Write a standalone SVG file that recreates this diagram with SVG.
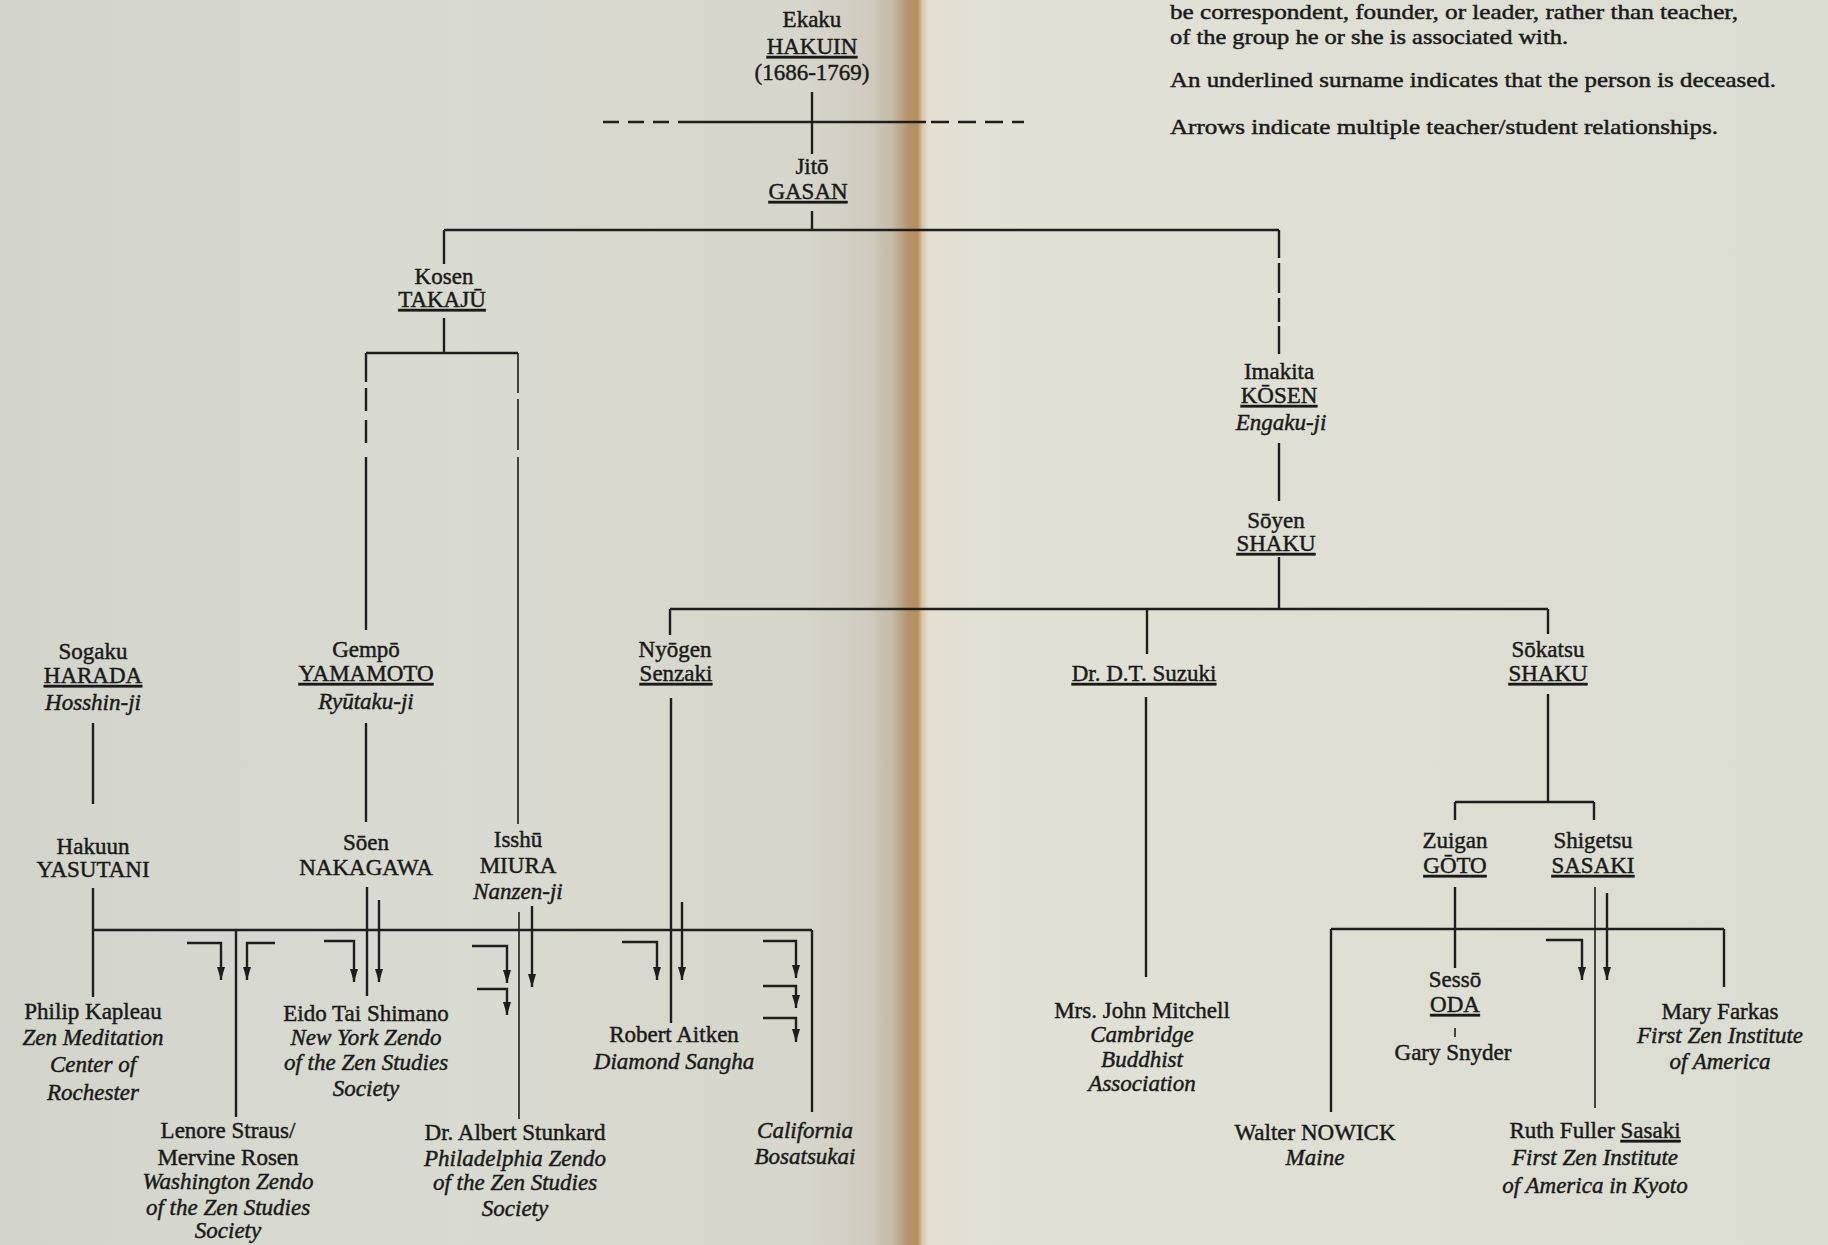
<svg xmlns="http://www.w3.org/2000/svg" width="1828" height="1245" viewBox="0 0 1828 1245">
<defs>
<linearGradient id="paper" x1="0" y1="0" x2="1828" y2="0" gradientUnits="userSpaceOnUse">
<stop offset="0" stop-color="#d3d4cb"/>
<stop offset="0.25" stop-color="#d9dad1"/>
<stop offset="0.44" stop-color="#d7d6cc"/>
<stop offset="0.475" stop-color="#d0ccbf"/>
<stop offset="0.488" stop-color="#c4bba8"/>
<stop offset="0.497" stop-color="#b3936b"/>
<stop offset="0.502" stop-color="#b98e5e"/>
<stop offset="0.5045" stop-color="#d8c6a6"/>
<stop offset="0.508" stop-color="#e5dfd0"/>
<stop offset="0.53" stop-color="#e2e1d6"/>
<stop offset="1" stop-color="#dbdcd2"/>
</linearGradient>
<marker id="ah" viewBox="0 0 13 8" refX="13" refY="4" markerWidth="13" markerHeight="8" markerUnits="userSpaceOnUse" orient="auto">
<path d="M0,0 L13,4 L0,8 z" fill="#1e1e1e"/>
</marker>
<style>
.t{font-family:"Liberation Serif","DejaVu Serif",serif;font-size:23px;fill:#1a1a1a;stroke:#1a1a1a;stroke-width:0.45;text-anchor:middle}
.i{font-style:italic}
.u{text-decoration:underline}
.note{font-family:"Liberation Serif","DejaVu Serif",serif;font-size:21px;fill:#1a1a1a;stroke:#1a1a1a;stroke-width:0.45;text-anchor:start}
.ln{stroke:#1e1e1e;stroke-width:2.4;fill:none}
.th{stroke-width:1.6}
.ar{marker-end:url(#ah)}
</style>
</defs>
<rect x="0" y="0" width="1828" height="1245" fill="url(#paper)"/>

<g id="legend">
<text class="note" x="1170" y="19" textLength="568" lengthAdjust="spacingAndGlyphs">be correspondent, founder, or leader, rather than teacher,</text>
<text class="note" x="1170" y="44" textLength="398" lengthAdjust="spacingAndGlyphs">of the group he or she is associated with.</text>
<text class="note" x="1170" y="87" textLength="606" lengthAdjust="spacingAndGlyphs">An underlined surname indicates that the person is deceased.</text>
<text class="note" x="1170" y="134" textLength="548" lengthAdjust="spacingAndGlyphs">Arrows indicate multiple teacher/student relationships.</text>
</g>

<g id="connectors">
<path class="ln" d="M812,92 V154"/>
<path class="ln" d="M603,122 H682" stroke-dasharray="16 9"/>
<path class="ln" d="M682,122 H926"/>
<path class="ln" d="M931,122 H1024" stroke-dasharray="18 9"/>
<path class="ln" d="M812,211 V230"/>
<path class="ln" d="M444,230 H1279"/>
<path class="ln" d="M444,230 V264"/>
<path class="ln" d="M1279,230 V258 M1279,263 V293 M1279,298 V322 M1279,326 V354"/>
<path class="ln" d="M444,318 V353"/>
<path class="ln" d="M366,353 H518"/>
<path class="ln" d="M366,353 V382 M366,388 V411 M366,420 V443 M366,457 V630"/>
<path class="ln th" d="M518,353 V393 M518,399 V450 M518,457 V824"/>
<path class="ln" d="M1279,443 V501"/>
<path class="ln" d="M1279,557 V609"/>
<path class="ln" d="M670,609 H1548"/>
<path class="ln" d="M670,609 V635"/>
<path class="ln" d="M1147,609 V654"/>
<path class="ln" d="M1548,609 V634"/>
<path class="ln" d="M93,723 V804"/>
<path class="ln" d="M366,723 V822"/>
<path class="ln" d="M671,698 V1023"/>
<path class="ln" d="M1146,697 V977"/>
<path class="ln" d="M1548,694 V802"/>
<path class="ln" d="M1455,802 H1594"/>
<path class="ln" d="M1455,802 V820 M1594,802 V820"/>
<path class="ln" d="M93,888 V997"/>
<path class="ln" d="M93,930 H812"/>
<path class="ln" d="M812,930 V1112"/>
<path class="ln" d="M236,930 V1117"/>
<path class="ln ar" d="M187,943 H221 V980"/>
<path class="ln ar" d="M275,943 H247 V980"/>
<path class="ln" d="M367,887 V996"/>
<path class="ln ar" d="M379,900 V982"/>
<path class="ln ar" d="M324,941 H354 V982"/>
<path class="ln th" d="M519,912 V1119"/>
<path class="ln ar" d="M532,906 V987"/>
<path class="ln ar" d="M472,946 H507 V983"/>
<path class="ln ar" d="M477,989 H507 V1015"/>
<path class="ln ar" d="M682,902 V980"/>
<path class="ln ar" d="M622,942 H657 V980"/>
<path class="ln ar" d="M763,941 H796 V978"/>
<path class="ln ar" d="M763,986 H796 V1008"/>
<path class="ln ar" d="M763,1018 H796 V1042"/>
<path class="ln" d="M1455,887 V968"/>
<path class="ln" d="M1331,929 H1724"/>
<path class="ln" d="M1331,929 V1112"/>
<path class="ln" d="M1724,929 V987"/>
<path class="ln th" d="M1455,1028 V1037"/>
<path class="ln th" d="M1595,887 V1108"/>
<path class="ln ar" d="M1607,893 V980"/>
<path class="ln ar" d="M1546,940 H1582 V980"/>
</g>

<g id="n-hakuin">
<text class="t" x="812" y="27">Ekaku</text>
<text class="t u" x="812" y="54">HAKUIN</text>
<text class="t" x="812" y="80">(1686-1769)</text>
</g>
<g id="n-gasan">
<text class="t" x="812" y="174">Jitō</text>
<text class="t u" x="808" y="199">GASAN</text>
</g>
<g id="n-takaju">
<text class="t" x="444" y="284">Kosen</text>
<text class="t u" x="442" y="307">TAKAJŪ</text>
</g>
<g id="n-kosen">
<text class="t" x="1279" y="379">Imakita</text>
<text class="t u" x="1279" y="403">KŌSEN</text>
<text class="t i" x="1281" y="430">Engaku-ji</text>
</g>
<g id="n-soyen">
<text class="t" x="1276" y="528">Sōyen</text>
<text class="t u" x="1276" y="551">SHAKU</text>
</g>
<g id="n-senzaki">
<text class="t" x="675" y="657">Nyōgen</text>
<text class="t u" x="676" y="681">Senzaki</text>
</g>
<g id="n-suzuki">
<text class="t u" x="1144" y="681">Dr. D.T. Suzuki</text>
</g>
<g id="n-sokatsu">
<text class="t" x="1548" y="657">Sōkatsu</text>
<text class="t u" x="1548" y="681">SHAKU</text>
</g>
<g id="n-harada">
<text class="t" x="93" y="659">Sogaku</text>
<text class="t u" x="93" y="683">HARADA</text>
<text class="t i" x="93" y="710">Hosshin-ji</text>
</g>
<g id="n-yamamoto">
<text class="t" x="366" y="657">Gempō</text>
<text class="t u" x="366" y="681">YAMAMOTO</text>
<text class="t i" x="366" y="709">Ryūtaku-ji</text>
</g>
<g id="n-yasutani">
<text class="t" x="93" y="854">Hakuun</text>
<text class="t" x="93" y="877">YASUTANI</text>
</g>
<g id="n-nakagawa">
<text class="t" x="366" y="850">Sōen</text>
<text class="t" x="366" y="875">NAKAGAWA</text>
</g>
<g id="n-miura">
<text class="t" x="518" y="847">Isshū</text>
<text class="t" x="518" y="873">MIURA</text>
<text class="t i" x="518" y="899">Nanzen-ji</text>
</g>
<g id="n-kapleau">
<text class="t" x="93" y="1019">Philip Kapleau</text>
<text class="t i" x="93" y="1045">Zen Meditation</text>
<text class="t i" x="93" y="1072">Center of</text>
<text class="t i" x="93" y="1100">Rochester</text>
</g>
<g id="n-straus">
<text class="t" x="228" y="1138">Lenore Straus/</text>
<text class="t" x="228" y="1165">Mervine Rosen</text>
<text class="t i" x="228" y="1189">Washington Zendo</text>
<text class="t i" x="228" y="1215">of the Zen Studies</text>
<text class="t i" x="228" y="1238">Society</text>
</g>
<g id="n-shimano">
<text class="t" x="366" y="1021">Eido Tai Shimano</text>
<text class="t i" x="366" y="1045">New York Zendo</text>
<text class="t i" x="366" y="1070">of the Zen Studies</text>
<text class="t i" x="366" y="1096">Society</text>
</g>
<g id="n-stunkard">
<text class="t" x="515" y="1140">Dr. Albert Stunkard</text>
<text class="t i" x="515" y="1166">Philadelphia Zendo</text>
<text class="t i" x="515" y="1190">of the Zen Studies</text>
<text class="t i" x="515" y="1216">Society</text>
</g>
<g id="n-aitken">
<text class="t" x="674" y="1042">Robert Aitken</text>
<text class="t i" x="674" y="1069">Diamond Sangha</text>
</g>
<g id="n-bosatsukai">
<text class="t i" x="805" y="1138">California</text>
<text class="t i" x="805" y="1164">Bosatsukai</text>
</g>
<g id="n-mitchell">
<text class="t" x="1142" y="1018">Mrs. John Mitchell</text>
<text class="t i" x="1142" y="1042">Cambridge</text>
<text class="t i" x="1142" y="1067">Buddhist</text>
<text class="t i" x="1142" y="1091">Association</text>
</g>
<g id="n-goto">
<text class="t" x="1455" y="848">Zuigan</text>
<text class="t u" x="1455" y="873">GŌTO</text>
</g>
<g id="n-shigetsu">
<text class="t" x="1593" y="848">Shigetsu</text>
<text class="t u" x="1593" y="873">SASAKI</text>
</g>
<g id="n-oda">
<text class="t" x="1455" y="987">Sessō</text>
<text class="t u" x="1455" y="1012">ODA</text>
</g>
<g id="n-snyder">
<text class="t" x="1453" y="1060">Gary Snyder</text>
</g>
<g id="n-nowick">
<text class="t" x="1315" y="1140">Walter NOWICK</text>
<text class="t i" x="1315" y="1165">Maine</text>
</g>
<g id="n-farkas">
<text class="t" x="1720" y="1019">Mary Farkas</text>
<text class="t i" x="1720" y="1043">First Zen Institute</text>
<text class="t i" x="1720" y="1069">of America</text>
</g>
<g id="n-ruth">
<text class="t" x="1595" y="1138">Ruth Fuller <tspan class="u">Sasaki</tspan></text>
<text class="t i" x="1595" y="1165">First Zen Institute</text>
<text class="t i" x="1595" y="1193">of America in Kyoto</text>
</g>
</svg>
